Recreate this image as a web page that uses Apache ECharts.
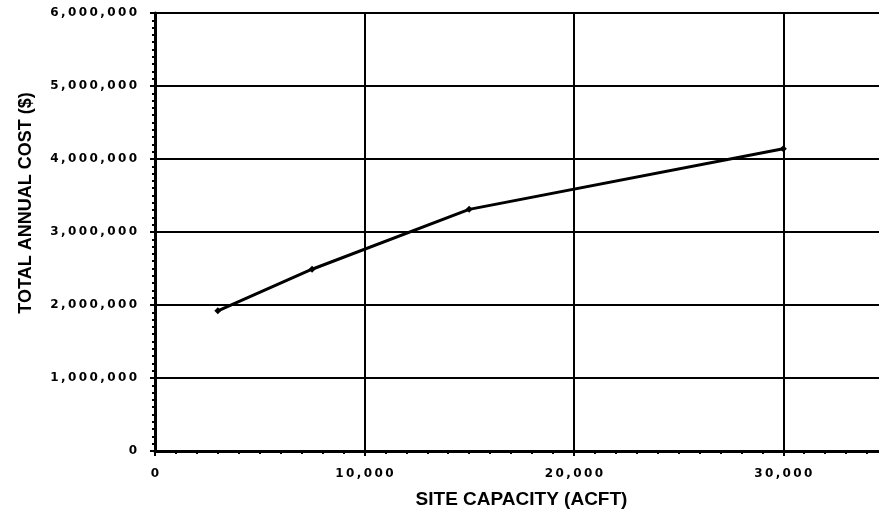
<!DOCTYPE html>
<html>
<head>
<meta charset="utf-8">
<script src="https://cdn.jsdelivr.net/npm/echarts@6/dist/echarts.min.js"></script>
<style>
    html, body { margin: 0; padding: 0; background: #fff; overflow: hidden; }
    #chart { width: 890px; height: 517px; }
</style>
</head>
<body>
<div id="chart"></div>
<script>
    // site capacity (acft) vs total annual cost ($)
    var capacity = [3000, 7500, 15000, 30000];
    var annualCost = [1920000, 2490000, 3310000, 4140000];
    var xTitle = 'SITE CAPACITY (ACFT)';
    var yTitle = 'TOTAL ANNUAL COST ($)';

    var points = [];
    for (var i = 0; i < capacity.length; i++) {
        points.push([capacity[i], annualCost[i]]);
    }

    // scanned labels are very wide, pad chars with thin spaces
    function fmt(v) {
        return Number(v).toLocaleString('en-US').split('').join('\u2009');
    }

    var labelFont = { color: '#000', fontFamily: 'DejaVu Sans', fontWeight: 'bold', fontSize: 12 };
    var titleFont = { color: '#000', fontFamily: 'Liberation Sans', fontWeight: 'bold' };

    var chart = echarts.init(document.getElementById('chart'));
    var option = {
        backgroundColor: '#fff',
        animation: false,
        grid: { left: 155, right: 2, top: 13, bottom: 66, outerBoundsMode: 'none', containLabel: false },
        xAxis: {
            type: 'value',
            min: 0,
            max: 35000,
            interval: 10000,
            name: xTitle,
            nameLocation: 'middle',
            nameGap: 39,
            nameTextStyle: Object.assign({ fontSize: 19 }, titleFont),
            axisLine: { show: true, lineStyle: { color: '#000', width: 3 } },
            axisTick: { show: true, length: 5, lineStyle: { color: '#000', width: 2 } },
            minorTick: { show: true, splitNumber: 10, length: 3, lineStyle: { color: '#000', width: 2 } },
            axisLabel: Object.assign({ formatter: fmt, margin: 17, showMaxLabel: false }, labelFont),
            splitLine: { show: true, lineStyle: { color: '#000', width: 2 } }
        },
        yAxis: {
            type: 'value',
            min: 0,
            max: 6000000,
            interval: 1000000,
            name: yTitle,
            nameLocation: 'middle',
            nameGap: 120,
            nameTextStyle: Object.assign({ fontSize: 18, padding: [0, 0, 0, 58] }, titleFont),
            axisLine: { show: true, lineStyle: { color: '#000', width: 3 } },
            axisTick: { show: true, length: 5, lineStyle: { color: '#000', width: 2 } },
            minorTick: { show: true, splitNumber: 10, length: 3, lineStyle: { color: '#000', width: 2 } },
            axisLabel: Object.assign({ formatter: fmt, margin: 18 }, labelFont),
            splitLine: { show: true, lineStyle: { color: '#000', width: 2 } }
        },
        series: [{
            type: 'line',
            data: points,
            symbol: 'diamond',
            symbolSize: 7,
            itemStyle: { color: '#000' },
            lineStyle: { color: '#000', width: 3 }
        }]
    };
    chart.setOption(option);
</script>
</body>
</html>
